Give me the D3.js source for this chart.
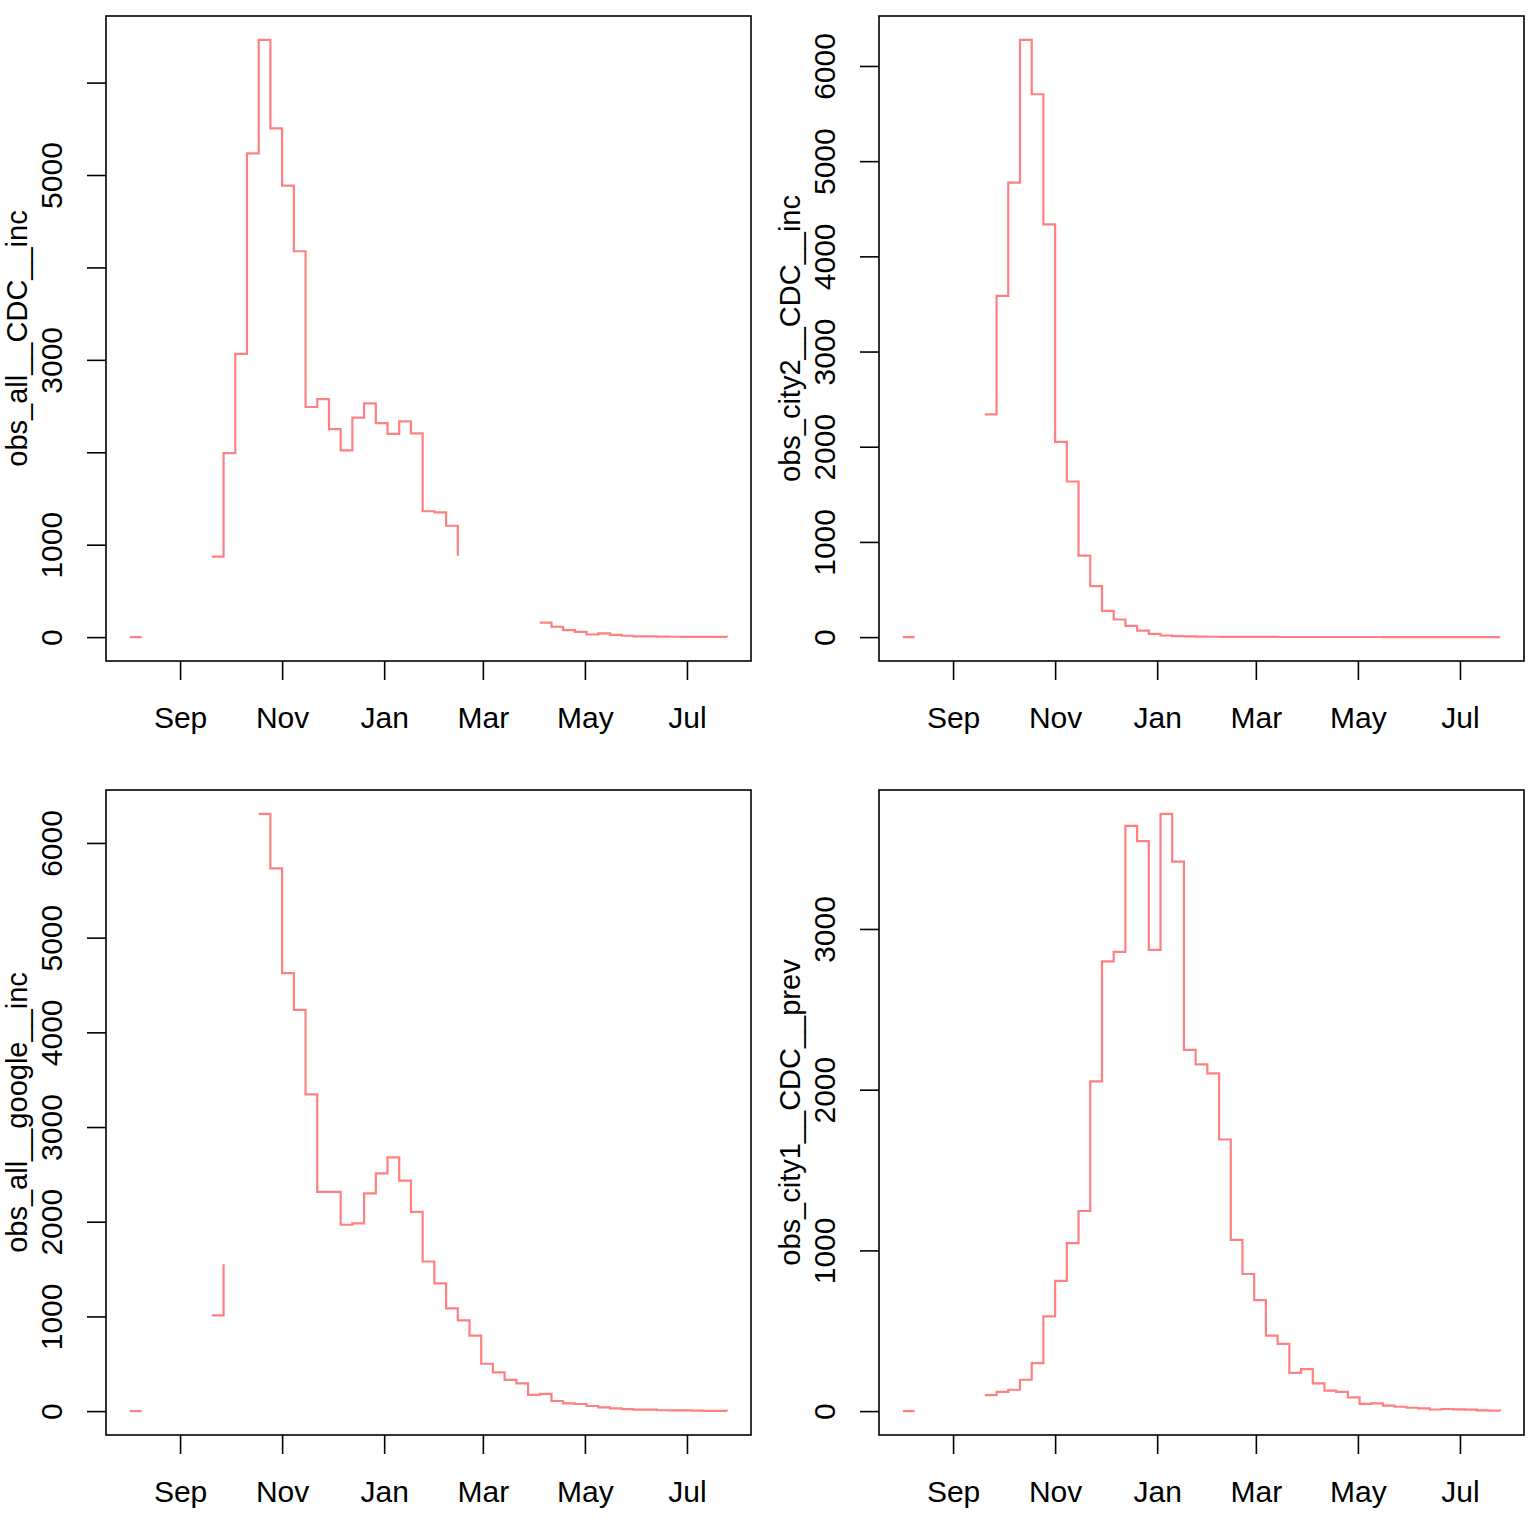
<!DOCTYPE html>
<html>
<head>
<meta charset="utf-8">
<script src="https://cdn.jsdelivr.net/npm/d3@7/dist/d3.min.js"></script>
<style>
  html, body { margin: 0; padding: 0; background: #ffffff; }
  svg { display: block; }
  text { font-family: "Liberation Sans", Arial, Helvetica, sans-serif; }
</style>
</head>
<body>
<svg id="chart" width="1540" height="1528"></svg>
<script>
// ---------- DATA ----------
const dates = [
  "2014-08-02","2014-08-09","2014-08-16","2014-08-23","2014-08-30",
  "2014-09-06","2014-09-13","2014-09-20","2014-09-27",
  "2014-10-04","2014-10-11","2014-10-18","2014-10-25",
  "2014-11-01","2014-11-08","2014-11-15","2014-11-22","2014-11-29",
  "2014-12-06","2014-12-13","2014-12-20","2014-12-27",
  "2015-01-03","2015-01-10","2015-01-17","2015-01-24","2015-01-31",
  "2015-02-07","2015-02-14","2015-02-21","2015-02-28",
  "2015-03-07","2015-03-14","2015-03-21","2015-03-28",
  "2015-04-04","2015-04-11","2015-04-18","2015-04-25",
  "2015-05-02","2015-05-09","2015-05-16","2015-05-23","2015-05-30",
  "2015-06-06","2015-06-13","2015-06-20","2015-06-27",
  "2015-07-04","2015-07-11","2015-07-18","2015-07-25"
];

const obs_all__CDC__inc = [
  0, 0, null, null, null, null, null,
  870, 1990, 3065, 5235, 6462, 5505, 4885, 4175, 2490, 2575, 2250, 2020, 2375, 2530,
  2315, 2200, 2335, 2205, 1362, 1350, 1205, 880,
  null, null, null, null, null, null,
  156, 112, 76, 57, 28, 40, 25, 15, 9, 8, 5, 4, 3, 3, 2, 2, 1
];

const obs_city2__CDC__inc = [
  0, 0, null, null, null, null, null,
  2340, 3585, 4775, 6274, 5703, 4335, 2050, 1635, 855, 535, 275, 185, 118, 68,
  34, 17, 10, 7, 5, 4, 3, 3, 2, 2, 2, 1, 1, 1, 1, 1, 1, 1, 1, 1,
  0, 0, 0, 0, 0, 0, 0, 0, 0, 0, 0
];

const obs_all__google__inc = [
  0, 0, null, null, null, null, null,
  1010, 1550, null, null, 6307, 5731, 4626, 4238, 3345, 2315, 2315, 1968, 1982, 2300,
  2510, 2680, 2435, 2105, 1580, 1350, 1085, 958, 797, 500, 410, 329, 293, 172, 182,
  107, 82, 75, 54, 40, 29, 22, 16, 15, 9, 8, 8, 5, 3, 2, 1
];

const obs_city1__CDC__prev = [
  0, 0, null, null, null, null, null,
  100, 120, 133, 195, 298, 590, 810, 1045, 1245, 2052, 2798, 2857, 3642, 3546,
  2870, 3716, 3419, 2248, 2157, 2102, 1690, 1065, 853, 690, 470, 418, 238, 261, 173,
  127, 120, 85, 45, 48, 34, 27, 21, 17, 10, 13, 11, 9, 5, 3, 1
];

const monthTickDates = ["2014-09-01","2014-11-01","2015-01-01","2015-03-01","2015-05-01","2015-07-01"];
const monthTickLabels = ["Sep","Nov","Jan","Mar","May","Jul"];

const yTicks6000 = [0, 1000, 2000, 3000, 4000, 5000, 6000];
const yLabelsP1 = ["0", "1000", "", "3000", "", "5000", ""];
const yLabels6000 = ["0", "1000", "2000", "3000", "4000", "5000", "6000"];
const yTicks3000 = [0, 1000, 2000, 3000];
const yLabels3000 = ["0", "1000", "2000", "3000"];

const panelNames = ["obs_all__CDC__inc", "obs_city2__CDC__inc", "obs_all__google__inc", "obs_city1__CDC__prev"];
const panelSeries = [obs_all__CDC__inc, obs_city2__CDC__inc, obs_all__google__inc, obs_city1__CDC__prev];
const panelYTicks = [yTicks6000, yTicks6000, yTicks6000, yTicks3000];
const panelYLabels = [yLabelsP1, yLabels6000, yLabels6000, yLabels3000];

// ---------- LAYOUT ----------
const boxes = [
  {x0: 106, x1: 751, y0: 16,  y1: 661},
  {x0: 879, x1: 1524, y0: 16, y1: 661},
  {x0: 106, x1: 751, y0: 790, y1: 1435},
  {x0: 879, x1: 1524, y0: 790, y1: 1435}
];
const FONT = 30;
const LABEL_FONT = 29;
const LINE_COLOR = "#ff8080";
const TICK_LEN = 19;
const FONT_FAMILY = '"Liberation Sans", Arial, Helvetica, sans-serif';

const parse = d3.utcParse("%Y-%m-%d");
const dateVals = dates.map(parse);
const monthTicks = monthTickDates.map(parse);

const svg = d3.select("#chart");
svg.append("rect").attr("width", 1540).attr("height", 1528).attr("fill", "#ffffff");

panelSeries.forEach((series, p) => {
  const b = boxes[p];
  const g = svg.append("g");

  // x scale: R style 4% extension
  const xExt = d3.extent(dateVals);
  const xr = xExt[1] - xExt[0];
  const x = d3.scaleUtc()
    .domain([new Date(+xExt[0] - 0.04 * xr), new Date(+xExt[1] + 0.04 * xr)])
    .range([b.x0, b.x1]);

  const vals = series.filter(v => v != null);
  const yMin = d3.min(vals), yMax = d3.max(vals);
  const yr = yMax - yMin;
  const y = d3.scaleLinear()
    .domain([yMin - 0.04 * yr, yMax + 0.04 * yr])
    .range([b.y1, b.y0]);

  const pts = series.map((v, i) => ({d: dateVals[i], v: v}));
  const line = d3.line()
    .defined(d => d.v != null)
    .x(d => x(d.d))
    .y(d => y(d.v))
    .curve(d3.curveStepAfter);

  g.append("path")
    .datum(pts)
    .attr("d", line)
    .attr("fill", "none")
    .attr("stroke", LINE_COLOR)
    .attr("stroke-width", 2.2)
    .attr("stroke-linejoin", "miter")
    .attr("stroke-linecap", "butt");

  // box
  g.append("rect")
    .attr("x", b.x0).attr("y", b.y0)
    .attr("width", b.x1 - b.x0).attr("height", b.y1 - b.y0)
    .attr("fill", "none").attr("stroke", "#000").attr("stroke-width", 1.6);

  // x axis
  const xAxis = d3.axisBottom(x)
    .tickValues(monthTicks)
    .tickFormat((d, i) => monthTickLabels[i])
    .tickSize(TICK_LEN);
  const gx = g.append("g").attr("transform", `translate(0,${b.y1})`).call(xAxis);
  gx.select(".domain").remove();
  gx.selectAll(".tick line").attr("stroke", "#000").attr("stroke-width", 1.6);
  gx.selectAll(".tick text")
    .attr("y", 66.5).attr("dy", null)
    .attr("fill", "#000")
    .style("font-size", FONT + "px")
    .style("font-family", FONT_FAMILY);

  // y axis
  const yt = panelYTicks[p], yl = panelYLabels[p];
  const yAxis = d3.axisLeft(y)
    .tickValues(yt)
    .tickFormat((d, i) => yl[i])
    .tickSize(TICK_LEN);
  const gy = g.append("g").attr("transform", `translate(${b.x0},0)`).call(yAxis);
  gy.select(".domain").remove();
  gy.selectAll(".tick line").attr("stroke", "#000").attr("stroke-width", 1.6);
  gy.selectAll(".tick text")
    .attr("x", null).attr("dy", null)
    .attr("transform", "translate(-44,0) rotate(-90)")
    .attr("text-anchor", "middle")
    .attr("fill", "#000")
    .style("font-size", FONT + "px")
    .style("font-family", FONT_FAMILY);

  // y label
  g.append("text")
    .attr("transform", `translate(${b.x0 - 79},${(b.y0 + b.y1) / 2}) rotate(-90)`)
    .attr("text-anchor", "middle")
    .attr("fill", "#000")
    .style("font-size", LABEL_FONT + "px")
    .style("font-family", FONT_FAMILY)
    .text(panelNames[p]);
});
</script>
</body>
</html>
